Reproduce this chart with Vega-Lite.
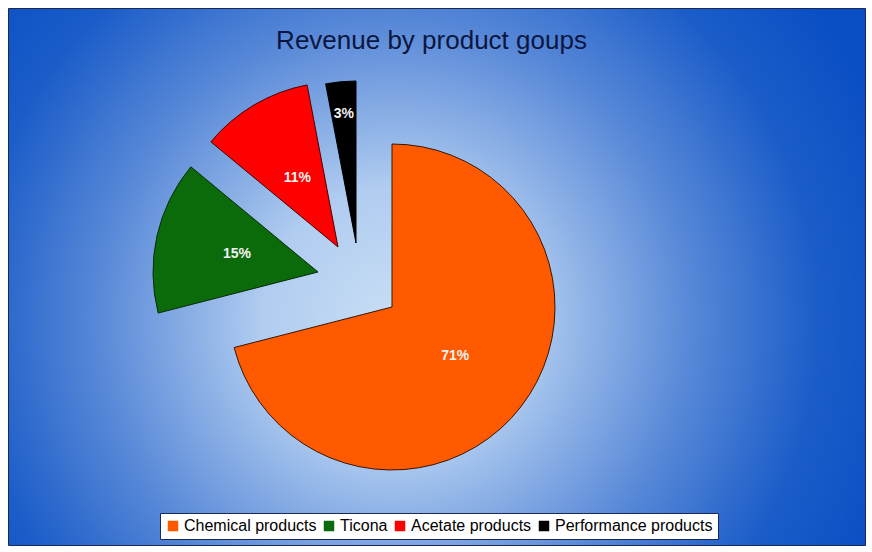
{
  "$schema": "https://vega.github.io/schema/vega-lite/v6.json",
  "width": 857,
  "height": 537,
  "autosize": {"type": "none"},
  "padding": {"left": 8, "top": 8, "right": 7, "bottom": 7},
  "background": "white",
  "title": {
    "text": "Revenue by product goups",
    "font": "Liberation Sans",
    "fontSize": 26,
    "fontWeight": "normal",
    "color": "#0b1640",
    "anchor": "middle",
    "frame": "group",
    "offset": -46,
    "dx": -5
  },
  "view": {
    "fill": {
      "gradient": "radial",
      "x1": 0.45, "y1": 0.55, "r1": 0,
      "x2": 0.45, "y2": 0.55, "r2": 0.62,
      "stops": [
        {"offset": 0, "color": "#c8def4"},
        {"offset": 0.25, "color": "#b0ccf0"},
        {"offset": 0.55, "color": "#5a8ad8"},
        {"offset": 0.8, "color": "#1a5cc8"},
        {"offset": 1, "color": "#0a4ec4"}
      ]
    },
    "stroke": "#1a2a55",
    "strokeWidth": 1
  },
  "data": {
    "values": [
      {"group": "Chemical products", "share": 71, "order": 1},
      {"group": "Ticona", "share": 15, "order": 2},
      {"group": "Acetate products", "share": 11, "order": 3},
      {"group": "Performance products", "share": 3, "order": 4}
    ]
  },
  "transform": [
    {"window": [{"op": "sum", "field": "share", "as": "end"}], "sort": [{"field": "order"}], "frame": [null, 0]},
    {"calculate": "datum.end - datum.share", "as": "start"},
    {"calculate": "(datum.start + datum.end) / 2", "as": "mid"},
    {"calculate": "datum.share + '%'", "as": "label"}
  ],
  "encoding": {
    "color": {
      "field": "group",
      "type": "nominal",
      "scale": {
        "domain": ["Chemical products", "Ticona", "Acetate products", "Performance products"],
        "range": ["#ff5a00", "#0b6b0b", "#ff0000", "#000000"]
      },
      "legend": {
        "title": null,
        "orient": "none",
        "legendX": 152,
        "legendY": 505,
        "direction": "horizontal",
        "columns": 4,
        "fillColor": "white",
        "strokeColor": "#1a2a55",
        "padding": 5,
        "symbolType": "square",
        "symbolSize": 110,
        "symbolStrokeWidth": 0,
        "symbolOpacity": 1,
        "labelFont": "Liberation Sans",
        "labelFontSize": 16,
        "labelColor": "#000000",
        "labelOffset": 3,
        "columnPadding": 4
      }
    }
  },
  "layer": [
    {
      "transform": [{"filter": "datum.group == 'Chemical products'"}],
      "layer": [
        {
          "mark": {"type": "arc", "radius": 163, "stroke": "#3a1400", "strokeWidth": 1, "xOffset": -44.5, "yOffset": 30.5},
          "encoding": {
            "theta": {"field": "start", "type": "quantitative", "stack": null, "scale": {"domain": [0, 100], "range": [0, 6.283185307]}},
            "theta2": {"field": "end"}
          }
        },
        {
          "mark": {"type": "text", "radius": 80, "font": "Liberation Sans", "fontSize": 14, "fontWeight": "bold", "xOffset": -44.5, "yOffset": 30.5},
          "encoding": {
            "theta": {"field": "mid", "type": "quantitative", "stack": null},
            "text": {"field": "label"},
            "color": {"value": "#f2f2f2"}
          }
        }
      ]
    },
    {
      "transform": [{"filter": "datum.group == 'Ticona'"}],
      "layer": [
        {
          "mark": {"type": "arc", "radius": 165, "stroke": "#0a2a0a", "strokeWidth": 1, "xOffset": -118.5, "yOffset": -4.5},
          "encoding": {
            "theta": {"field": "start", "type": "quantitative", "stack": null},
            "theta2": {"field": "end"}
          }
        },
        {
          "mark": {"type": "text", "radius": 83, "font": "Liberation Sans", "fontSize": 14, "fontWeight": "bold", "xOffset": -118.5, "yOffset": -4.5},
          "encoding": {
            "theta": {"field": "mid", "type": "quantitative", "stack": null},
            "text": {"field": "label"},
            "color": {"value": "#f2f2f2"}
          }
        }
      ]
    },
    {
      "transform": [{"filter": "datum.group == 'Acetate products'"}],
      "layer": [
        {
          "mark": {"type": "arc", "radius": 165, "stroke": "#4a0000", "strokeWidth": 1, "xOffset": -98.5, "yOffset": -29.5},
          "encoding": {
            "theta": {"field": "start", "type": "quantitative", "stack": null},
            "theta2": {"field": "end"}
          }
        },
        {
          "mark": {"type": "text", "radius": 80, "font": "Liberation Sans", "fontSize": 14, "fontWeight": "bold", "xOffset": -98.5, "yOffset": -29.5},
          "encoding": {
            "theta": {"field": "mid", "type": "quantitative", "stack": null},
            "text": {"field": "label"},
            "color": {"value": "#f2f2f2"}
          }
        }
      ]
    },
    {
      "transform": [{"filter": "datum.group == 'Performance products'"}],
      "layer": [
        {
          "mark": {"type": "arc", "radius": 162, "stroke": "#000000", "strokeWidth": 1, "xOffset": -80.5, "yOffset": -33.5},
          "encoding": {
            "theta": {"field": "start", "type": "quantitative", "stack": null},
            "theta2": {"field": "end"}
          }
        },
        {
          "mark": {"type": "text", "radius": 130, "font": "Liberation Sans", "fontSize": 14, "fontWeight": "bold", "xOffset": -80.5, "yOffset": -33.5},
          "encoding": {
            "theta": {"field": "mid", "type": "quantitative", "stack": null},
            "text": {"field": "label"},
            "color": {"value": "#f2f2f2"}
          }
        }
      ]
    }
  ]
}
